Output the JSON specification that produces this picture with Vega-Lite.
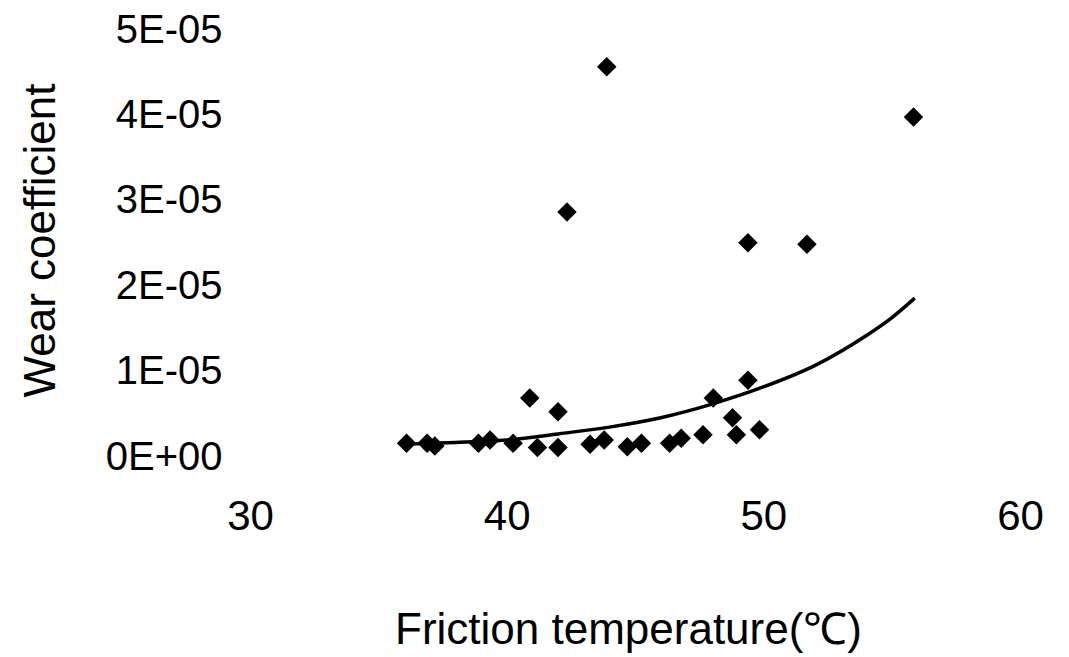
{
  "$schema": "https://vega.github.io/schema/vega-lite/v6.json",
  "width": 770,
  "height": 427,
  "autosize": {"type": "none"},
  "padding": {"left": 250, "top": 30, "right": 49, "bottom": 200},
  "background": "white",
  "config": {
    "view": {"stroke": null},
    "font": "Liberation Sans",
    "axis": {"grid": false, "domain": false, "ticks": false, "labelColor": "black", "titleColor": "black", "labelFont": "Liberation Sans", "titleFont": "Liberation Sans", "titleFontWeight": "normal", "labelFlush": false, "labelOverlap": false}
  },
  "datasets": {
    "points": [
      {"temp": 36.1, "wear": 0.0000016},
      {"temp": 36.9, "wear": 0.0000016},
      {"temp": 37.2, "wear": 0.0000013},
      {"temp": 38.9, "wear": 0.0000016},
      {"temp": 39.35, "wear": 0.0000020},
      {"temp": 40.25, "wear": 0.0000016},
      {"temp": 40.9, "wear": 0.0000069},
      {"temp": 41.2, "wear": 0.0000011},
      {"temp": 42.0, "wear": 0.0000053},
      {"temp": 42.0, "wear": 0.0000011},
      {"temp": 42.35, "wear": 0.0000287},
      {"temp": 43.25, "wear": 0.0000015},
      {"temp": 43.8, "wear": 0.0000020},
      {"temp": 43.9, "wear": 0.0000457},
      {"temp": 44.7, "wear": 0.0000012},
      {"temp": 45.25, "wear": 0.0000016},
      {"temp": 46.35, "wear": 0.0000016},
      {"temp": 46.8, "wear": 0.0000022},
      {"temp": 47.65, "wear": 0.0000026},
      {"temp": 48.05, "wear": 0.0000069},
      {"temp": 48.8, "wear": 0.0000046},
      {"temp": 48.95, "wear": 0.0000026},
      {"temp": 49.4, "wear": 0.0000090},
      {"temp": 49.4, "wear": 0.0000251},
      {"temp": 49.85, "wear": 0.0000032},
      {"temp": 51.7, "wear": 0.0000249},
      {"temp": 55.85, "wear": 0.0000398}
    ],
    "trend": [
      {"temp": 35.9, "wear": 0.0000015},
      {"temp": 38, "wear": 0.0000017},
      {"temp": 40, "wear": 0.0000020},
      {"temp": 42, "wear": 0.0000027},
      {"temp": 44, "wear": 0.0000035},
      {"temp": 46, "wear": 0.0000046},
      {"temp": 48, "wear": 0.0000062},
      {"temp": 50, "wear": 0.0000082},
      {"temp": 52, "wear": 0.0000107},
      {"temp": 54, "wear": 0.0000142},
      {"temp": 55, "wear": 0.0000163},
      {"temp": 55.9, "wear": 0.0000186}
    ]
  },
  "layer": [
    {
      "data": {"name": "trend"},
      "mark": {"type": "line", "color": "black", "strokeWidth": 3.5, "interpolate": "monotone"},
      "encoding": {
        "x": {"field": "temp", "type": "quantitative", "scale": {"domain": [30, 60]},
          "axis": {"values": [30, 40, 50, 60], "labelFontSize": 42, "labelPadding": 39, "title": "Friction temperature(℃)", "titleFontSize": 44, "titleX": 378, "titleY": 173, "titleAlign": "center", "titleBaseline": "middle"}},
        "y": {"field": "wear", "type": "quantitative", "scale": {"domain": [0, 0.00005]},
          "axis": {"values": [0, 0.00001, 0.00002, 0.00003, 0.00004, 0.00005], "labelExpr": "datum.value == 0 ? '0E+00' : format(datum.value * 100000, 'd') + 'E-05'", "labelFontSize": 40, "labelPadding": 28, "title": "Wear coefficient", "titleFontSize": 44, "titleX": -209, "titleY": 210, "titleAngle": -90, "titleAlign": "center", "titleBaseline": "middle"}}
      }
    },
    {
      "data": {"name": "points"},
      "mark": {"type": "point", "shape": "diamond", "filled": true, "color": "black", "opacity": 1, "size": 380},
      "encoding": {
        "x": {"field": "temp", "type": "quantitative"},
        "y": {"field": "wear", "type": "quantitative"}
      }
    }
  ]
}
